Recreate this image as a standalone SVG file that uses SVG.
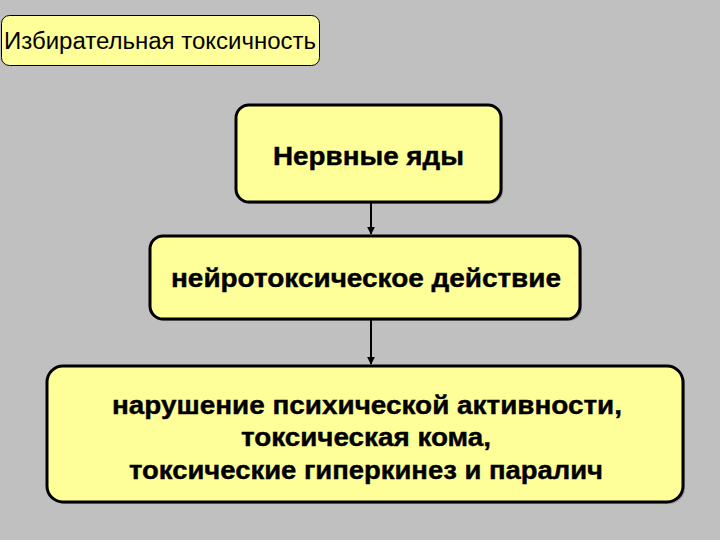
<svg xmlns="http://www.w3.org/2000/svg" width="720" height="540" viewBox="0 0 720 540">
<defs>
<style>
.box{fill:#ffff99;stroke:#000;stroke-width:3}
.sh{fill:#9a9a9a}
.t{font-family:"Liberation Sans",Arial,sans-serif;font-weight:bold;font-size:25px;fill:#000;stroke:#000;stroke-width:0.4;text-anchor:middle}
.c{stroke:#000;stroke-width:2;fill:none}
</style>
<marker id="ah" viewBox="0 0 10 10" refX="9" refY="5" markerWidth="4" markerHeight="4" orient="auto"><path d="M0,0L10,5L0,10z" fill="#000"/></marker>
</defs>
<rect width="720" height="540" fill="#c0c0c0"/>
<g id="n0">
<rect x="1.5" y="15.5" width="318" height="50" rx="8" fill="#ffff99" stroke="#000" stroke-width="1"/>
<text x="4" y="49" font-family="Liberation Sans, Arial, sans-serif" font-size="23" fill="#000" textLength="312" lengthAdjust="spacingAndGlyphs">Избирательная токсичность</text>
</g>
<g id="n1">
<rect class="sh" x="238" y="107" width="265" height="97" rx="13"/>
<rect class="box" x="236" y="105" width="265" height="97" rx="13"/>
<text class="t" x="368.5" y="165" textLength="191" lengthAdjust="spacingAndGlyphs">Нервные яды</text>
</g>
<g id="n2">
<rect class="sh" x="152" y="238" width="430" height="83" rx="13"/>
<rect class="box" x="150" y="236" width="430" height="83" rx="13"/>
<text class="t" x="366" y="287" textLength="390" lengthAdjust="spacingAndGlyphs">нейротоксическое действие</text>
</g>
<g id="n3">
<rect class="sh" x="49" y="368" width="636" height="136" rx="16"/>
<rect class="box" x="47" y="366" width="636" height="136" rx="16"/>
<text class="t" x="367" y="414" textLength="510" lengthAdjust="spacingAndGlyphs">нарушение психической активности,</text>
<text class="t" x="366" y="446" textLength="250" lengthAdjust="spacingAndGlyphs">токсическая кома,</text>
<text class="t" x="366" y="479" textLength="474" lengthAdjust="spacingAndGlyphs">токсические гиперкинез и паралич</text>
</g>
<g id="connectors">
<line class="c" x1="371" y1="203" x2="371" y2="234" marker-end="url(#ah)"/>
<line class="c" x1="371" y1="320" x2="371" y2="364" marker-end="url(#ah)"/>
</g>
</svg>
